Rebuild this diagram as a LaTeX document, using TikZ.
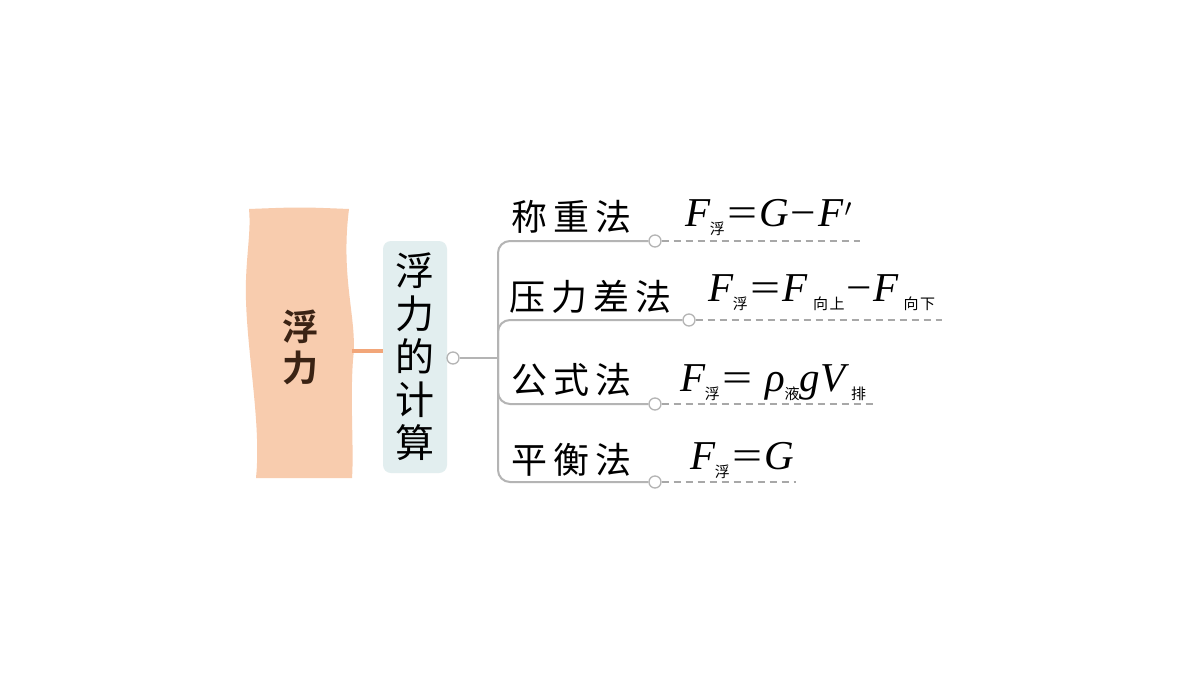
\documentclass[tikz,border=0pt]{standalone}
\usepackage{fontspec}
\usepackage{graphicx}
\setmainfont{Liberation Serif}
\newfontfamily\cjk{Noto Sans CJK SC}
\newfontfamily\cjkb{Noto Sans CJK SC}[BoldFont={* Bold}]
\usetikzlibrary{calc}
\definecolor{peach}{HTML}{F8CCAE}
\definecolor{brown}{HTML}{3B2314}
\definecolor{boxfill}{HTML}{E2EEEF}
\definecolor{linegray}{HTML}{B4B4B4}
\definecolor{dashgray}{HTML}{A8A8A8}
\definecolor{orangeline}{HTML}{F2A679}
\newcommand{\Ss}[1]{\raisebox{-0.2em}{{\cjk\fontsize{15}{15}\selectfont #1}}}
\newcommand{\Fs}[1]{\textit{F}\kern-0.02em\Ss{#1}}
\newcommand{\EQ}{\kern0.06em\scalebox{1.3}[1]{=}\kern0.06em}
\newcommand{\MI}{\kern0.04em\scalebox{1.1}[1]{\textminus}\kern0.04em}
\tikzset{
  method/.style={anchor=west,inner sep=0pt,font=\cjk\fontsize{36}{36}\selectfont},
  formula/.style={anchor=base west,inner sep=0pt,font=\fontsize{41}{41}\selectfont},
  knob/.style={circle,draw=linegray,fill=white,line width=1.3pt,minimum size=12pt,inner sep=0pt},
  branch/.style={draw=linegray,line width=2pt,rounded corners=12pt},
  dashline/.style={draw=dashgray,line width=1.5pt,dash pattern=on 7pt off 5pt}
}
\begin{document}
\begin{tikzpicture}[x=1pt,y=-1pt]
\useasboundingbox[fill=white] (0,0) rectangle (1200,675);
% banner
\path[fill=peach] (249,209) .. controls (300,207) .. (349,209)
  .. controls (340,280) and (358,320) .. (353,360)
  .. controls (350,400) and (354,450) .. (352,478)
  -- (256,478) .. controls (262,420) and (244,340) .. (246,280)
  .. controls (247,250) and (251,230) .. (249,209) -- cycle;
\node[font=\cjkb\bfseries\fontsize{36}{36}\selectfont,text=brown,align=center,inner sep=0pt] (root) at (300,347) {浮\\[5pt]力};
\coordinate (bannerR) at (352,351);
% box
\node[fill=boxfill,rounded corners=8pt,minimum width=64pt,minimum height=232pt,inner sep=0pt] (calc) at (415,357) {};
\node[font=\cjk\fontsize{39}{39}\selectfont,align=center,inner sep=0pt] (calctext) at (415,357) {浮\\[4pt]力\\[4pt]的\\[4pt]计\\[4pt]算};
\draw[orangeline,line width=4pt] (bannerR) -- (calc.west |- bannerR);
% hub
\node[knob] (hub) at (453,358) {};
\coordinate (trunk) at (498,358);
\draw[linegray,line width=2pt] (hub) -- (trunk);
% branch knobs
\node[knob] (k1) at (655,241) {};
\node[knob] (k2) at (689,320) {};
\node[knob] (k3) at (655,404) {};
\node[knob] (k4) at (655,482) {};
\coordinate (e1) at (860,241);
\coordinate (e2) at (942,320);
\coordinate (e3) at (877,404);
\coordinate (e4) at (796,482);
\foreach \k in {k1,k2,k3,k4}{
  \draw[branch] (trunk) -- (trunk |- \k) -- (\k.west);
}
\draw[dashline] (k1.east) -- (e1);
\draw[dashline] (k2.east) -- (e2);
\draw[dashline] (k3.east) -- (e3);
\draw[dashline] (k4.east) -- (e4);
% method labels
\node[method] (m1) at (511,217) {称\,重\,法};
\node[method] (m2) at (509,297) {压\,力\,差\,法};
\node[method] (m3) at (511,380) {公\,式\,法};
\node[method] (m4) at (511,460) {平\,衡\,法};
% formulas
\node[formula] (f1) at (685,226) {\Fs{浮}\EQ\textit{G}\MI\textit{F}\kern0.03em$'$};
\node[formula] (f2) at (708,301) {\Fs{浮}\EQ\textit{F}\kern0.12em\Ss{向\kern0.1em 上}\MI\textit{F}\kern0.12em\Ss{向\kern0.1em 下}};
\node[formula] (f3) at (680,391) {\Fs{浮}\EQ\ \textit{ρ}\Ss{液}\textit{gV}\kern0.05em\Ss{排}};
\node[formula] (f4) at (690,469) {\Fs{浮}\EQ\textit{G}};
\end{tikzpicture}
\end{document}
